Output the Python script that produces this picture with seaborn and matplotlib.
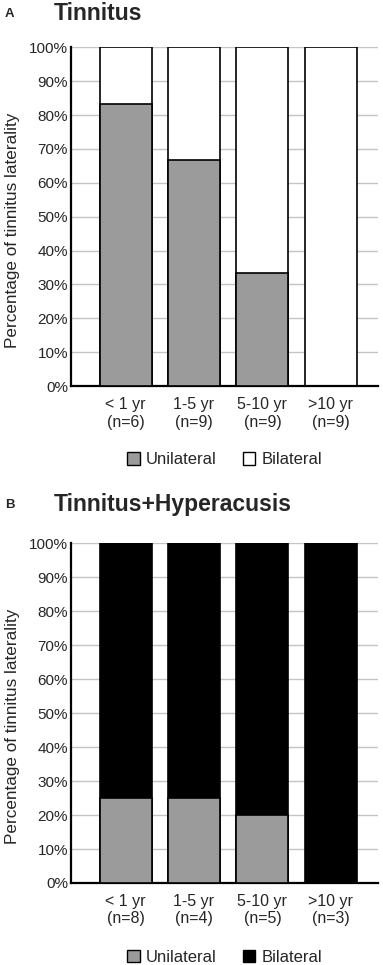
import pandas as pd
import matplotlib.pyplot as plt
import seaborn as sns
from matplotlib.patches import Patch

sns.set_style("white")
plt.rcParams['font.family'] = ['Liberation Sans', 'DejaVu Sans']

# data (percent of patients)
categories = ['< 1 yr\n(n=6)', '1-5 yr\n(n=9)', '5-10 yr\n(n=9)', '>10 yr\n(n=9)']
unilateral_a = [83.3, 66.7, 33.3, 0.0]
bilateral_a = [16.7, 33.3, 66.7, 100.0]

categories_b = ['< 1 yr\n(n=8)', '1-5 yr\n(n=4)', '5-10 yr\n(n=5)', '>10 yr\n(n=3)']
unilateral_b = [25.0, 25.0, 20.0, 0.0]
bilateral_b = [75.0, 75.0, 80.0, 100.0]

yticks = list(range(0, 101, 10))
GREY = '#9b9b9b'


def draw_panel(ax, cats, uni, bil, bil_color):
    df = pd.DataFrame({'cat': cats, 'uni': uni, 'bil': bil})
    df['total'] = df['uni'] + df['bil']
    # stacked: total (bilateral colour) first, unilateral over it
    sns.barplot(data=df, x='cat', y='total', color=bil_color, width=0.76,
                edgecolor='black', linewidth=1.2, saturation=1, ax=ax, zorder=2)
    sns.barplot(data=df, x='cat', y='uni', color=GREY, width=0.76,
                edgecolor='black', linewidth=1.2, saturation=1, ax=ax, zorder=3)
    ax.set_ylim(0, 100)
    ax.set_xlim(-0.8, 3.69)
    ax.set_yticks(yticks)
    ax.set_yticklabels([f"{t}%" for t in yticks], fontsize=11)
    ax.tick_params(axis='x', labelsize=11.5, length=0, pad=8)
    ax.tick_params(axis='y', length=0, pad=2)
    ax.set_xlabel('')
    ax.set_ylabel('Percentage of tinnitus laterality', fontsize=12.3)
    ax.yaxis.set_label_coords(-0.166, 0.46)
    ax.grid(axis='y', color='#c4c4c4', linewidth=1.0, zorder=0)
    ax.set_axisbelow(True)
    for s in ['top', 'right']:
        ax.spines[s].set_visible(False)
    for s in ['left', 'bottom']:
        ax.spines[s].set_color('black')
        ax.spines[s].set_linewidth(1.6)
    handles = [Patch(facecolor=GREY, edgecolor='black', linewidth=1.0, label='Unilateral'),
               Patch(facecolor=bil_color, edgecolor='black', linewidth=1.0, label='Bilateral')]
    ax.legend(handles=handles, loc='center', bbox_to_anchor=(0.5, -0.218), ncol=2,
              frameon=False, fontsize=12, handlelength=0.75, handleheight=0.75,
              handletextpad=0.35, columnspacing=1.6)


fig = plt.figure(figsize=(3.83, 9.65), dpi=100)
ax_a = fig.add_axes([0.185, 0.600, 0.802, 0.351])
ax_b = fig.add_axes([0.185, 0.085, 0.802, 0.352])

draw_panel(ax_a, categories, unilateral_a, bilateral_a, 'white')
draw_panel(ax_b, categories_b, unilateral_b, bilateral_b, 'black')

fig.text(5 / 383, 1 - 14 / 965, 'A', fontsize=9.5, fontweight='bold', va='center')
fig.text(54 / 383, 1 - 14 / 965, 'Tinnitus', fontsize=16.5, fontweight='bold', va='center')
fig.text(5 / 383, 1 - 505 / 965, 'B', fontsize=9.5, fontweight='bold', va='center')
fig.text(54 / 383, 1 - 504 / 965, 'Tinnitus+Hyperacusis', fontsize=16.5, fontweight='bold', va='center')

fig.savefig('out.png', dpi=100)
